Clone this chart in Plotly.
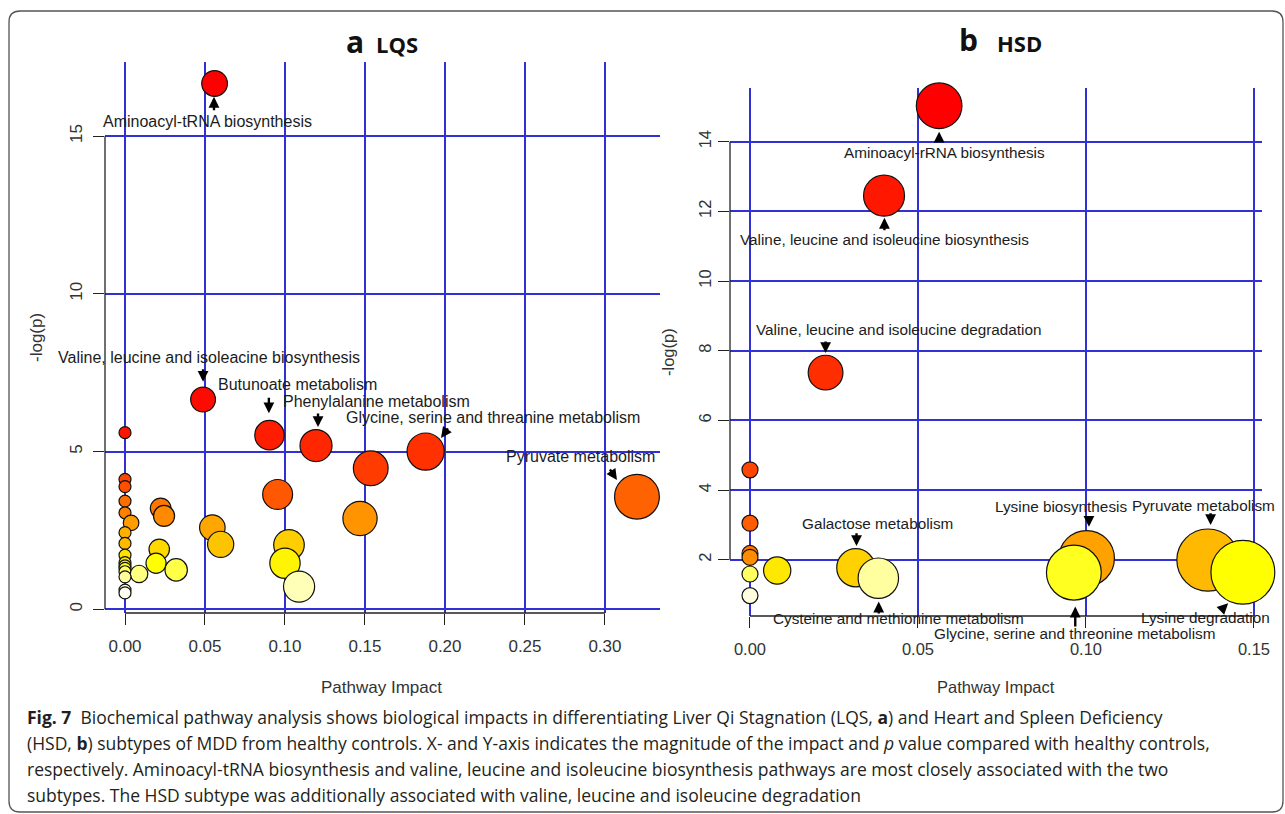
import colorsys
import numpy as np
import plotly.graph_objects as go

# ---------------- data ----------------
# Panel a (LQS)
lqs_impact = [0.056, 0.0488, 0.0903, 0.1194, 0.1879, 0.1536, 0.320, 0.0954, 0.1469,
              0.1025, 0.100, 0.1088, 0.0546, 0.0598, 0.0223, 0.0244, 0.0214, 0.0194,
              0.032, 0.0088, 0.0038,
              0, 0, 0, 0, 0, 0, 0, 0, 0, 0, 0, 0, 0, 0, 0]
lqs_logp = [16.67, 6.65, 5.52, 5.19, 5.00, 4.47, 3.57, 3.64, 2.88,
            2.04, 1.46, 0.72, 2.59, 2.06, 3.20, 2.96, 1.90, 1.46,
            1.25, 1.12, 2.74,
            5.60, 4.12, 3.89, 3.43, 3.06, 2.43, 2.09, 1.72, 1.48, 1.38, 1.30, 1.19, 1.03, 0.61, 0.52]
lqs_names = ["Aminoacyl-tRNA biosynthesis",
             "Valine, leucine and isoleacine biosynthesis",
             "Butunoate metabolism",
             "Phenylalanine metabolism",
             "Glycine, serine and threanine metabolism",
             "",
             "Pyruvate metabolism"] + [""] * 29

# Panel b (HSD)
hsd_impact = [0.0563, 0.0399, 0.0225, 0, 0, 0, 0, 0, 0, 0.0081, 0.0315, 0.0382,
              0.1002, 0.0964, 0.1363, 0.1467]
hsd_logp = [15.03, 12.45, 7.37, 4.58, 3.05, 2.18, 2.07, 1.59, 0.97, 1.69, 1.77, 1.47,
            2.04, 1.63, 1.99, 1.64]
hsd_names = ["Aminoacyl-rRNA biosynthesis",
             "Valine, leucine and isoleucine biosynthesis",
             "Valine, leucine and isoleucine degradation",
             "", "", "", "", "", "", "",
             "Galactose metabolism",
             "Cysteine and methionine metabolism",
             "Lysine biosynthesis",
             "Glycine, serine and threonine metabolism",
             "Pyruvate metabolism",
             "Lysine degradation"]

lqs_xticks = [0.00, 0.05, 0.10, 0.15, 0.20, 0.25, 0.30]
lqs_yticks = [0, 5, 10, 15]
hsd_xticks = [0.00, 0.05, 0.10, 0.15]
hsd_yticks = [2, 4, 6, 8, 10, 12, 14]

panel_titles = [("a", "LQS"), ("b", "HSD")]
x_title = "Pathway Impact"
y_title = "-log(p)"
caption_lines = [
    "<b>Fig. 7</b>&nbsp; Biochemical pathway analysis shows biological impacts in differentiating Liver Qi Stagnation (LQS, <b>a</b>) and Heart and Spleen Deficiency",
    "(HSD, <b>b</b>) subtypes of MDD from healthy controls. X- and Y-axis indicates the magnitude of the impact and <i>p</i> value compared with healthy controls,",
    "respectively. Aminoacyl-tRNA biosynthesis and valine, leucine and isoleucine biosynthesis pathways are most closely associated with the two",
    "subtypes. The HSD subtype was additionally associated with valine, leucine and isoleucine degradation",
]

# ---------------- styling (pixel offsets of labels / arrows relative to bubble) ----------------
# name: (text dx, text dy, arrow tail dx, dy, arrow head dx, dy)  (pixels, y down)
lqs_label_style = {
    "Aminoacyl-tRNA biosynthesis": (-6.6, 37.7, -0.6, 28.4, -0.6, 13.4),
    "Valine, leucine and isoleacine biosynthesis": (5.5, -42.5, 0, -31.8, 0, -17.8),
    "Butunoate metabolism": (28.5, -51, -0.6, -39, -0.6, -22),
    "Phenylalanine metabolism": (60.5, -44.5, 2, -33.5, 2, -18.5),
    "Glycine, serine and threanine metabolism": (67.4, -33.7, 23.4, -24.7, 15.4, -13.7),
    "Pyruvate metabolism": (-56, -39.7, -28, -28.7, -20, -16.7),
}
hsd_label_style = {
    "Aminoacyl-rRNA biosynthesis": (5.3, 47, 0, 37, 0, 26),
    "Valine, leucine and isoleucine biosynthesis": (0, 44.2, 0.4, 36.2, 0.4, 22.2),
    "Valine, leucine and isoleucine degradation": (73.4, -42.7, 0, -32.7, 0, -19.7),
    "Galactose metabolism": (22, -44.7, 0.7, -36, 0.7, -21.7),
    "Cysteine and methionine metabolism": (20.4, 40.7, 0.4, 36.7, 0.4, 23.4),
    "Lysine biosynthesis": (-26.1, -51.6, 2.3, -42.3, 2.3, -31.6),
    "Pyruvate metabolism": (-4, -54.3, 2.7, -48.3, 2.7, -35),
    "Lysine degradation": (-37, 45.5, -22.3, 38.4, -14.7, 31),
    "Glycine, serine and threonine metabolism": (0.6, 61.0, 1.4, 55.3, 1.4, 34),
}

W, H = 1285, 814
PLOT_FONT = "Liberation Sans, Arial, sans-serif"
GRID = "#3030d4"
INK = "#1c1c1c"


def heat_colors(n):
    """R's heat.colors(n)"""
    j = n // 4
    i = n - j
    cols = []
    for k in range(i):
        h = (k / (i - 1)) * (1 / 6) if i > 1 else 0
        r, g, b = colorsys.hsv_to_rgb(h, 1, 1)
        cols.append("rgb(%d,%d,%d)" % (round(r * 255), round(g * 255), round(b * 255)))
    if j > 0:
        for s in np.linspace(1 - 1 / (2 * j), 1 / (2 * j), j):
            r, g, b = colorsys.hsv_to_rgb(1 / 6, s, 1)
            cols.append("rgb(%d,%d,%d)" % (round(r * 255), round(g * 255), round(b * 255)))
    return cols


def px_x(p):
    return p / W


def px_y(p):
    return 1 - p / H


fig = go.Figure()
annotations = []
shapes = []

panels = [
    dict(impact=lqs_impact, logp=lqs_logp, names=lqs_names, style=lqs_label_style,
         xa="x", ya="y", base=12, k=58, lab_size=16),
    dict(impact=hsd_impact, logp=hsd_logp, names=hsd_names, style=hsd_label_style,
         xa="x2", ya="y2", base=16, k=125, lab_size=15.3),
]

for P in panels:
    x = np.array(P["impact"], dtype=float)
    y = np.array(P["logp"], dtype=float)
    order = np.argsort(-y, kind="stable")
    cols = heat_colors(len(y))
    sizes = P["base"] + P["k"] * np.sqrt(np.abs(x))
    fig.add_trace(go.Scatter(
        x=x[order], y=y[order], mode="markers",
        marker=dict(size=sizes[order], color=cols,
                    line=dict(color="#111111", width=1.2), opacity=1),
        cliponaxis=False, hoverinfo="skip", showlegend=False,
        xaxis=P["xa"], yaxis=P["ya"]))
    for idx, name in enumerate(P["names"]):
        if not name:
            continue
        tdx, tdy, adx, ady, hdx, hdy = P["style"][name]
        annotations.append(dict(
            x=x[idx], y=y[idx], xref=P["xa"], yref=P["ya"], text=name,
            showarrow=False, xshift=tdx, yshift=-tdy, xanchor="center", yanchor="middle",
            font=dict(family=PLOT_FONT, size=P["lab_size"], color=INK)))
        annotations.append(dict(
            x=x[idx], y=y[idx], xref=P["xa"], yref=P["ya"], text="",
            showarrow=True, arrowhead=2, arrowsize=0.9, arrowwidth=2.4, arrowcolor="#000000",
            ax=adx - hdx, ay=ady - hdy, xshift=hdx, yshift=-hdy, standoff=0))

axis_common = dict(showgrid=True, gridcolor=GRID, gridwidth=1.6, zeroline=False,
                   showline=False, ticks="outside", ticklen=11, tickwidth=1.3,
                   tickcolor="#222222")

fig.update_layout(
    width=W, height=H, margin=dict(l=0, r=0, t=0, b=0, autoexpand=False),
    autosize=False,
    paper_bgcolor="white", plot_bgcolor="white", showlegend=False,
    xaxis=dict(domain=[px_x(105), px_x(660)], range=[-0.0125, 0.3344], anchor="y",
               tickvals=lqs_xticks, ticktext=["%.2f" % v for v in lqs_xticks],
               ticklabelstandoff=7,
               tickfont=dict(family=PLOT_FONT, size=17, color="#333333"), **axis_common),
    yaxis=dict(domain=[px_y(613), px_y(62)], range=[-0.117, 17.35], anchor="x",
               tickvals=lqs_yticks, ticktext=[str(v) for v in lqs_yticks], tickangle=-90,
               ticklabelstandoff=4,
               tickfont=dict(family=PLOT_FONT, size=17, color="#333333"), **axis_common),
    xaxis2=dict(domain=[px_x(730), px_x(1262)], range=[-0.00595, 0.1524], anchor="y2",
                tickvals=hsd_xticks, ticktext=["%.2f" % v for v in hsd_xticks],
                ticklabelstandoff=7,
                tickfont=dict(family=PLOT_FONT, size=16.5, color="#333333"), **axis_common),
    yaxis2=dict(domain=[px_y(616), px_y(88)], range=[0.385, 15.54], anchor="x2",
                tickvals=hsd_yticks, ticktext=[str(v) for v in hsd_yticks], tickangle=-90,
                tickfont=dict(family=PLOT_FONT, size=16.5, color="#333333"), **axis_common),
)

# R-style axis lines spanning first..last tick
for xa, ya, xt, yt in [("x", "y", lqs_xticks, lqs_yticks), ("x2", "y2", hsd_xticks, hsd_yticks)]:
    shapes.append(dict(type="line", xref=xa + " domain", yref=ya, x0=0, x1=0,
                       y0=yt[0], y1=yt[-1], line=dict(color="#222222", width=1.3)))
    shapes.append(dict(type="line", xref=xa, yref=ya + " domain", x0=xt[0], x1=xt[-1],
                       y0=0, y1=0, line=dict(color="#222222", width=1.3)))

# rounded frame
L, T, R_, B, rad = 9, 11, 1283, 812, 11
rx, ry = rad / W, rad / H
l, r, t, b = L / W, R_ / W, 1 - T / H, 1 - B / H
path = (f"M {l + rx},{t} L {r - rx},{t} Q {r},{t} {r},{t - ry} L {r},{b + ry} "
        f"Q {r},{b} {r - rx},{b} L {l + rx},{b} Q {l},{b} {l},{b + ry} L {l},{t - ry} "
        f"Q {l},{t} {l + rx},{t} Z")
shapes.append(dict(type="path", xref="paper", yref="paper", path=path,
                   line=dict(color="#555555", width=1.3), layer="below"))

# panel titles
title_pos = [((354.5, 41), (397, 44)), ((968.5, 40), (1020, 43))]
for (letter, grp), ((lx, ly), (gx, gy)) in zip(panel_titles, title_pos):
    annotations.append(dict(x=px_x(lx), y=px_y(ly), xref="paper", yref="paper",
                            text="<b>%s</b>" % letter, showarrow=False,
                            font=dict(family="Open Sans, sans-serif", size=30, color="#111111"),
                            xanchor="center", yanchor="middle"))
    annotations.append(dict(x=px_x(gx), y=px_y(gy), xref="paper", yref="paper",
                            text="<b>%s</b>" % grp, showarrow=False,
                            font=dict(family="Open Sans, sans-serif", size=22, color="#111111"),
                            xanchor="center", yanchor="middle"))

# axis titles
for (xx, yy, sz) in [(381, 687, 17), (996, 687, 16.5)]:
    annotations.append(dict(x=px_x(xx), y=px_y(yy), xref="paper", yref="paper", text=x_title,
                            showarrow=False, font=dict(family=PLOT_FONT, size=sz, color="#333333"),
                            xanchor="center", yanchor="middle"))
for (xx, yy, sz) in [(37, 338, 17), (668, 352, 16.5)]:
    annotations.append(dict(x=px_x(xx), y=px_y(yy), xref="paper", yref="paper", text=y_title,
                            showarrow=False, textangle=-90,
                            font=dict(family=PLOT_FONT, size=sz, color="#333333"),
                            xanchor="center", yanchor="middle"))

# caption
for i, line in enumerate(caption_lines):
    annotations.append(dict(x=px_x(25), y=px_y(717 + 26 * i), xref="paper", yref="paper",
                            text=line, showarrow=False, xanchor="left", yanchor="middle",
                            font=dict(family="Open Sans, sans-serif", size=17.5, color="#231f20")))

fig.update_layout(annotations=annotations, shapes=shapes)
fig.write_html("out.html",
               config={"responsive": False, "displayModeBar": False},
               post_script="document.body.style.margin='0px';document.body.style.overflow='hidden';")
